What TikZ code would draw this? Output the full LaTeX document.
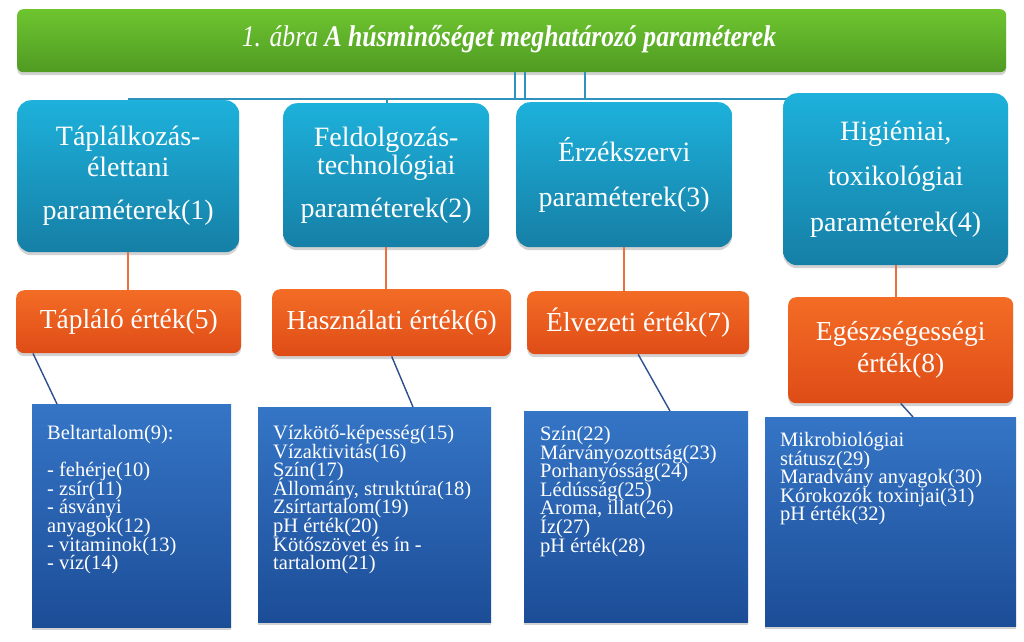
\documentclass[tikz,border=0pt]{standalone}
\usepackage{fontspec}
\setmainfont{Liberation Serif}
\newfontfamily\tms{Liberation Serif}
\usetikzlibrary{shadows,calc}
\definecolor{grtop}{HTML}{6EC52F}
\definecolor{grbot}{HTML}{4F9B23}
\definecolor{bltop}{HTML}{1DB1DB}
\definecolor{blbot}{HTML}{167FA6}
\definecolor{ortop}{HTML}{F36C25}
\definecolor{orbot}{HTML}{DF4C17}
\definecolor{dbtop}{HTML}{3575C6}
\definecolor{dbbot}{HTML}{1C4D97}
\definecolor{tealline}{HTML}{2E93BC}
\definecolor{orline}{HTML}{E9703E}
\definecolor{dbline}{HTML}{2D4F8E}
\tikzset{
  boxbase/.style={anchor=north west, inner sep=0pt, draw=none, text=white,
    drop shadow={opacity=0.35, shadow xshift=0pt, shadow yshift=-3pt}},
  banner/.style={boxbase, rounded corners=6pt, top color=grtop, bottom color=grbot},
  topbox/.style={boxbase, rounded corners=14pt, top color=bltop, bottom color=blbot,
    align=center, font={\tms\fontsize{28}{31}\selectfont}},
  valbox/.style={boxbase, rounded corners=8pt, top color=ortop, bottom color=orbot,
    align=center, font={\tms\fontsize{27.5}{32}\selectfont}},
  listbox/.style={boxbase, top color=dbtop, bottom color=dbbot},
  listtext/.style={anchor=north west, inner sep=0pt, text=white, align=left,
    font={\tms\fontsize{20.5}{18.6}\selectfont\lineskiplimit=-100pt\lineskip=0pt}},
  tline/.style={draw=tealline, line width=1.6pt},
  oline/.style={draw=orline, line width=1.6pt},
  dline/.style={draw=dbline, line width=1.4pt},
}
\begin{document}
\begin{tikzpicture}[x=1pt,y=-1pt]
\useasboundingbox[fill=white] (0,0) rectangle (1024,641);

\coordinate (hl) at (128,99);
\coordinate (hr) at (800,99);

\node[banner, minimum width=989pt, minimum height=63pt] (banner) at (17,9) {};
\node[text=white, inner sep=0pt, font=\tms] (title) at (509,39)
  {\scalebox{0.856}[1]{\fontsize{30}{34}\selectfont\itshape 1. ábra \textbf{A húsminőséget meghatározó paraméterek}}};

\draw[tline] (hl) -- (hr);
\draw[tline] ([xshift=3.5pt]banner.south) -- ([xshift=3.5pt]banner.south |- hl);
\draw[tline] ([xshift=13pt]banner.south) -- ([xshift=13pt]banner.south |- hl);
\draw[tline] ([xshift=73.5pt]banner.south) -- ([xshift=73.5pt]banner.south |- hl);
\draw[tline] (387,99) -- (387,104);

\node[topbox, minimum width=222pt, minimum height=152pt] (b1) at (17,100)
  {Táplálkozás-\\élettani\\[12pt]paraméterek(1)};
\node[topbox, minimum width=206pt, minimum height=144pt, font={\tms\fontsize{28}{28}\selectfont}] (b2) at (283,103)
  {Feldolgozás-\\technológiai\\[15pt]paraméterek(2)};
\node[topbox, minimum width=216pt, minimum height=145pt, font={\tms\fontsize{28}{45}\selectfont}] (b3) at (516,102)
  {Érzékszervi\\paraméterek(3)};
\node[topbox, minimum width=225pt, minimum height=172pt, font={\tms\fontsize{28}{45.5}\selectfont}] (b4) at (783,93)
  {Higiéniai,\\toxikológiai\\paraméterek(4)};

\node[valbox, minimum width=225pt, minimum height=63pt] (o1) at (16,290) {Tápláló érték(5)};
\node[valbox, minimum width=239pt, minimum height=67pt] (o2) at (272,289) {Használati érték(6)};
\node[valbox, minimum width=222pt, minimum height=63pt] (o3) at (527,291) {Élvezeti érték(7)};
\node[valbox, minimum width=225pt, minimum height=106pt] (o4) at (788,297) {Egészségességi\\érték(8)};

\draw[oline] (b1.south) -- (b1.south |- o1.north);
\draw[oline] (b2.south) -- (b2.south |- o2.north);
\draw[oline] (b3.south) -- (b3.south |- o3.north);
\draw[oline] (b4.south) -- (b4.south |- o4.north);

\node[listbox, minimum width=199pt, minimum height=223pt] (d9) at (32,404) {};
\node[listbox, minimum width=233pt, minimum height=215pt] (d15) at (258,407) {};
\node[listbox, minimum width=224pt, minimum height=211pt] (d22) at (524,411) {};
\node[listbox, minimum width=251pt, minimum height=209pt] (d29) at (765,417) {};

\draw[dline] ([xshift=17pt]o1.south west) -- ([xshift=25pt]d9.north west);
\draw[dline] (o2.south) -- ([xshift=155pt]d15.north west);
\draw[dline] (o3.south) -- ([xshift=146pt]d22.north west);
\draw[dline] (o4.south) -- ([xshift=148pt]d29.north west);

\node[listtext] (t9) at (47,425)
  {Beltartalom(9):\\[18.6pt]- fehérje(10)\\- zsír(11)\\- ásványi\\anyagok(12)\\- vitaminok(13)\\- víz(14)};
\node[listtext] (t15) at (273,425)
  {Vízkötő-képesség(15)\\Vízaktivitás(16)\\Szín(17)\\Állomány, struktúra(18)\\Zsírtartalom(19)\\pH érték(20)\\Kötőszövet és ín -\\tartalom(21)};
\node[listtext] (t22) at (540,426)
  {Szín(22)\\Márványozottság(23)\\Porhanyósság(24)\\Lédússág(25)\\Aroma, illat(26)\\Íz(27)\\pH érték(28)};
\node[listtext] (t29) at (780,432)
  {Mikrobiológiai\\státusz(29)\\Maradvány anyagok(30)\\Kórokozók toxinjai(31)\\pH érték(32)};
\end{tikzpicture}
\end{document}
